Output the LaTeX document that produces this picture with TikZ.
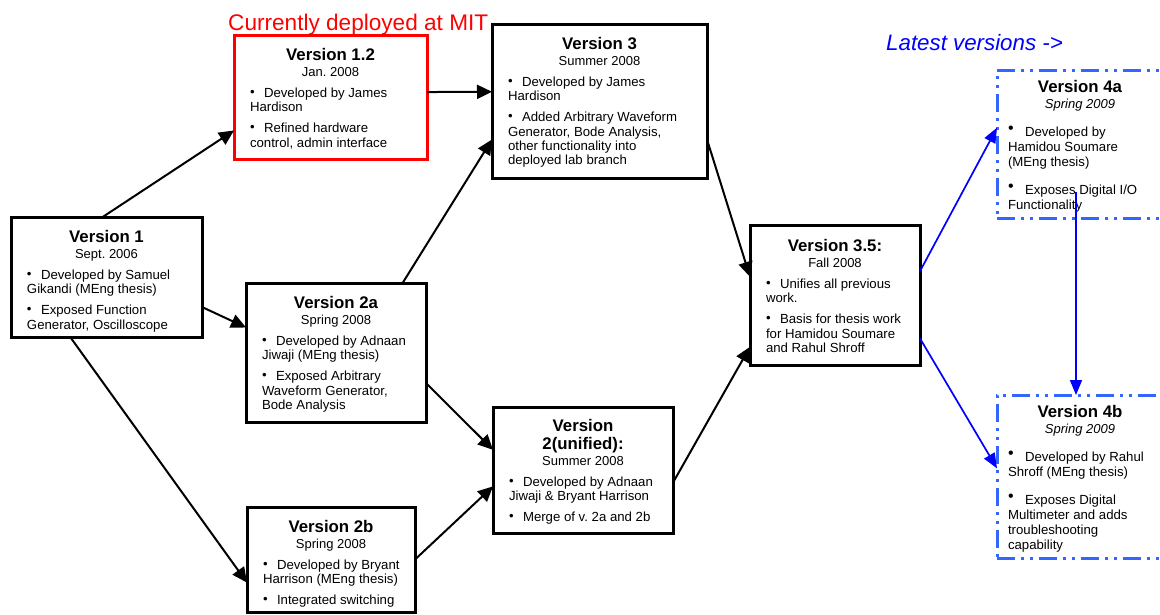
\documentclass[tikz,border=0pt]{standalone}
\usepackage{fontspec}
\setmainfont{Liberation Sans}
\usetikzlibrary{arrows.meta,calc}
\definecolor{dashblue}{RGB}{51,102,255}
\definecolor{arrblue}{RGB}{0,0,255}
\frenchspacing
\newcommand\vbx[4]{\parbox[t][#2][t]{#1}{\frenchspacing\vspace*{#3}#4}}
\newcommand\ttl[1]{{\centering\fontsize{16.8}{18}\selectfont\bfseries #1\par}}
\newcommand\dt[1]{{\centering\fontsize{13}{16.3}\selectfont #1\par}}
\newcommand\bl[1]{\vspace{6.7pt}{\raggedright\fontsize{13.2}{14.3}\selectfont\makebox[14pt][l]{\raisebox{1pt}{•}}#1\par}}
\newcommand\dtb[1]{{\centering\fontsize{13}{16}\selectfont\itshape #1\par}}
\newcommand\blb[1]{\vspace{13pt}{\raggedright\fontsize{13.2}{15}\selectfont\makebox[17pt][l]{\fontsize{16}{15}\selectfont\raisebox{2.5pt}{•}}#1\par}}
\begin{document}
\begin{tikzpicture}[x=1pt,y=-1pt,
  vb/.style={draw, line width=3pt, inner xsep=16pt, inner ysep=0pt, outer sep=0pt, anchor=north west, fill=white},
  nb/.style={vb, draw=dashblue, inner xsep=11pt, dash pattern=on 18pt off 6pt on 3pt off 6pt on 3pt off 6pt},
  ar/.style={line width=2pt, -{Triangle[length=15pt,width=14pt]}},
  br/.style={line width=1.7pt, draw=arrblue, -{Triangle[length=15pt,width=12pt,fill=arrblue]}}]
\useasboundingbox (0,0) rectangle (1160,614);

% boxes
\node[vb] (v1) at (11,217) {\vbx{159pt}{120pt}{13pt}{\ttl{Version 1}\dt{Sept. 2006}%
  \bl{\mbox{Developed by Samuel}\\\mbox{Gikandi (MEng thesis)}}%
  \bl{\mbox{Exposed Function}\\\mbox{Generator, Oscilloscope}}}};

\node[vb, draw=red] (v12) at (234,35) {\vbx{161pt}{124pt}{13pt}{\ttl{Version 1.2}\dt{Jan. 2008}%
  \bl{\mbox{Developed by James}\\\mbox{Hardison}}%
  \bl{\mbox{Refined hardware}\\\mbox{control, admin interface}}}};

\node[vb] (v3) at (492,24) {\vbx{183pt}{154pt}{13pt}{\ttl{Version 3}\dt{Summer 2008}%
  \bl{\mbox{Developed by James}\\\mbox{Hardison}}%
  \bl{\mbox{Added Arbitrary Waveform}\\\mbox{Generator, Bode Analysis,}\\\mbox{other functionality into}\\\mbox{deployed lab branch}}}};

\node[vb] (v2a) at (246,283) {\vbx{148pt}{139pt}{13pt}{\ttl{Version 2a}\dt{Spring 2008}%
  \bl{\mbox{Developed by Adnaan}\\\mbox{Jiwaji (MEng thesis)}}%
  \bl{\mbox{Exposed Arbitrary}\\\mbox{Waveform Generator,}\\\mbox{Bode Analysis}}}};

\node[vb] (v2b) at (247,507) {\vbx{136pt}{105pt}{13pt}{\ttl{Version 2b}\dt{Spring 2008}%
  \bl{\mbox{Developed by Bryant}\\\mbox{Harrison (MEng thesis)}}%
  \bl{\mbox{Integrated switching}}}};

\node[vb] (v2u) at (493,407) {\vbx{148pt}{126pt}{12pt}{\ttl{Version\\2(unified):}\dt{Summer 2008}%
  \bl{\mbox{Developed by Adnaan}\\\mbox{Jiwaji \& Bryant Harrison}}%
  \bl{\mbox{Merge of v. 2a and 2b}}}};

\node[vb] (v35) at (750,225) {\vbx{138pt}{140pt}{14pt}{\ttl{Version 3.5:}\dt{Fall 2008}%
  \bl{\mbox{Unifies all previous}\\\mbox{work.}}%
  \bl{\mbox{Basis for thesis work}\\\mbox{for Hamidou Soumare}\\\mbox{and Rahul Shroff}}}};

\node[nb] (v4a) at (997,70) {\vbx{144pt}{148pt}{10pt}{\ttl{Version 4a}\dtb{Spring 2009}%
  \blb{\mbox{Developed by}\\\mbox{Hamidou Soumare}\\\mbox{(MEng thesis)}}%
  \blb{\mbox{Exposes Digital I/O}\\\mbox{Functionality}}}};

\node[nb] (v4b) at (997,395) {\vbx{144pt}{163pt}{10pt}{\ttl{Version 4b}\dtb{Spring 2009}%
  \blb{\mbox{Developed by Rahul}\\\mbox{Shroff (MEng thesis)}}%
  \blb{\mbox{Exposes Digital}\\\mbox{Multimeter and adds}\\\mbox{troubleshooting}\\\mbox{capability}}}};

% labels
\node[text=red, font=\fontsize{22.6}{26}\selectfont, anchor=base west, inner sep=0pt] (dep) at (228,30) {Currently deployed at MIT};
\node[text=arrblue, font=\fontsize{22.3}{26}\selectfont\itshape, anchor=base west, inner sep=0pt] (lat) at (886,50) {Latest versions ->};

% black arrows
\draw[ar] ($(v1.north west)!0.48!(v1.north east)$) -- ($(v12.north west)!0.77!(v12.south west)$);
\draw[ar] ($(v1.north east)!0.75!(v1.south east)$) -- ($(v2a.north west)!0.32!(v2a.south west)$);
\draw[ar] ($(v1.south west)!0.31!(v1.south east)$) -- ($(v2b.north west)!0.72!(v2b.south west)$);
\draw[ar] ($(v12.north east)!0.46!(v12.south east)$) -- ($(v3.north west)!0.44!(v3.south west)$);
\draw[ar] ($(v2a.north west)!0.87!(v2a.north east)$) -- ($(v3.north west)!0.75!(v3.south west)$);
\draw[ar] ($(v2a.north east)!0.72!(v2a.south east)$) -- ($(v2u.north west)!0.34!(v2u.south west)$);
\draw[ar] ($(v2b.north east)!0.5!(v2b.south east)$) -- ($(v2u.north west)!0.63!(v2u.south west)$);
\draw[ar] ($(v3.north east)!0.75!(v3.south east)$) -- ($(v35.north west)!0.37!(v35.south west)$);
\draw[ar] ($(v2u.north east)!0.6!(v2u.south east)$) -- ($(v35.north west)!0.87!(v35.south west)$);

% blue arrows
\draw[br] ($(v35.north east)!0.33!(v35.south east)$) -- ($(v4a.north west)!0.39!(v4a.south west)$);
\draw[br] ($(v35.north east)!0.81!(v35.south east)$) -- ($(v4b.north west)!0.45!(v4b.south west)$);
\coordinate (s4) at (1076,192);
\draw[br] (s4) -- (v4b.north -| s4);
\end{tikzpicture}
\end{document}
